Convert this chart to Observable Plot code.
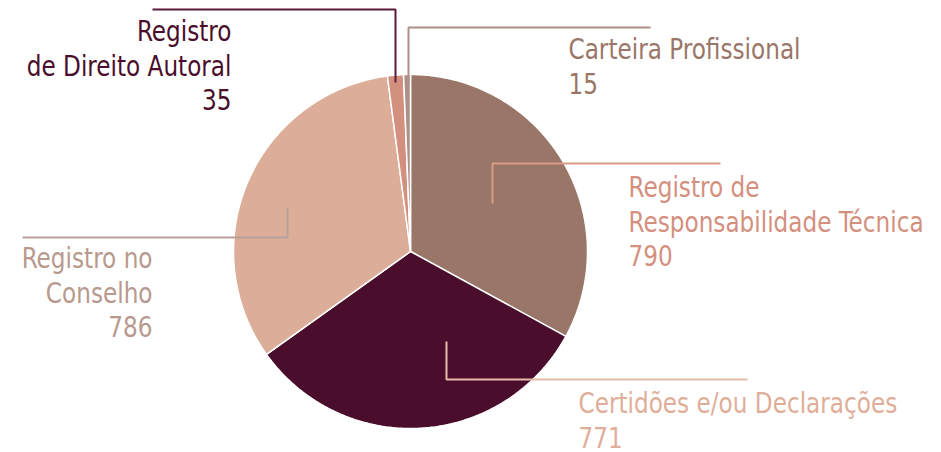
<!DOCTYPE html>
<html>
<head>
<meta charset="utf-8">
<script src="https://cdn.jsdelivr.net/npm/d3@7"></script>
<script src="https://cdn.jsdelivr.net/npm/@observablehq/plot@0.6"></script>
<style>
  html, body { margin: 0; padding: 0; background: #fff; }
  #chart svg { display: block; }
</style>
</head>
<body>
<div id="chart"></div>
<script>
// Data (clockwise from 12 o'clock)
const categories = ["Registro de Responsabilidade Técnica", "Certidões e/ou Declarações", "Registro no Conselho", "Registro de Direito Autoral", "Carteira Profissional"];
const values = [790, 771, 786, 35, 15];
const labelLines = ["Registro de\nResponsabilidade Técnica", "Certidões e/ou Declarações", "Registro no\nConselho", "Registro\nde Direito Autoral", "Carteira Profissional"];

// Styles
const sliceColors = ["#9a7668", "#4a0d2b", "#dcae99", "#d4907e", "#ae9088"];
const labelColors = ["#d4907e", "#e0ae98", "#b8998e", "#4a0d2b", "#9a7668"];
const lineColors = ["#d99a86", "#e6bca8", "#b8a09a", "#5a1a3a", "#ae9088"];

// Layout (pixels)
const W = 941, H = 452;
const cx = 410, cy = 251, R = 177;
const leaders = [
  [[492, 203], [492, 163], [720, 163]],
  [[446, 341], [446, 379], [747, 379]],
  [[287, 207], [287, 237], [22, 237]],
  [[395, 82], [395, 9], [152, 9]],
  [[408, 84], [408, 27], [650, 27]]
];
const labelPos = [
  {x: 628, base: 196, anchor: "start"},
  {x: 578, base: 412, anchor: "start"},
  {x: 152, base: 267, anchor: "end"},
  {x: 231, base: 40, anchor: "end"},
  {x: 568, base: 58, anchor: "start"}
];
const fontSize = 28;
const squeeze = 0.92;

// Pie geometry via d3.pie
const arcs = d3.pie().sort(null).value(d => d)(values);
const slicePts = [];
arcs.forEach((a, i) => {
  slicePts.push({k: i, x: cx, y: cy, color: sliceColors[i]});
  const n = Math.max(4, Math.ceil((a.endAngle - a.startAngle) / 0.01));
  for (let j = 0; j <= n; j++) {
    const t = a.startAngle + (a.endAngle - a.startAngle) * j / n;
    slicePts.push({k: i, x: cx + R * Math.sin(t), y: cy - R * Math.cos(t), color: sliceColors[i]});
  }
  slicePts.push({k: i, x: cx, y: cy, color: sliceColors[i]});
});

const leaderPts = [];
leaders.forEach((pts, i) => pts.forEach(([x, y]) => leaderPts.push({k: i, x, y, color: lineColors[i]})));

const labels = categories.map((c, i) => ({
  text: labelLines[i] + "\n" + values[i],
  x: labelPos[i].x,
  y: labelPos[i].base - 0.71 * fontSize - 4,
  anchor: labelPos[i].anchor,
  color: labelColors[i]
}));

const chart = Plot.plot({
  width: W,
  height: H,
  margin: 0,
  x: {domain: [0, W], range: [0, W], axis: null},
  y: {domain: [0, H], range: [0, H], axis: null},
  style: {fontFamily: "'DejaVu Sans Condensed', 'DejaVu Sans', sans-serif", background: "#fff"},
  marks: [
    Plot.line(slicePts, {x: "x", y: "y", z: "k", fill: "color", stroke: "#fff", strokeWidth: 1.5, curve: "linear", strokeLinejoin: "miter"}),
    Plot.line(leaderPts, {x: "x", y: "y", z: "k", stroke: "color", strokeWidth: 2, strokeLinejoin: "miter", strokeLinecap: "butt"}),
    Plot.text(labels.filter(d => d.anchor === "start"), {x: "x", y: "y", text: "text", fill: "color", textAnchor: "start", lineAnchor: "top", fontSize, lineHeight: 1.23}),
    Plot.text(labels.filter(d => d.anchor === "end"), {x: "x", y: "y", text: "text", fill: "color", textAnchor: "end", lineAnchor: "top", fontSize, lineHeight: 1.23})
  ]
});
// condense the label type horizontally
chart.querySelectorAll("text").forEach(t => {
  const tr = t.getAttribute("transform") || "";
  t.setAttribute("transform", tr + ` scale(${squeeze},1)`);
});
document.getElementById("chart").appendChild(chart);
</script>
</body>
</html>
